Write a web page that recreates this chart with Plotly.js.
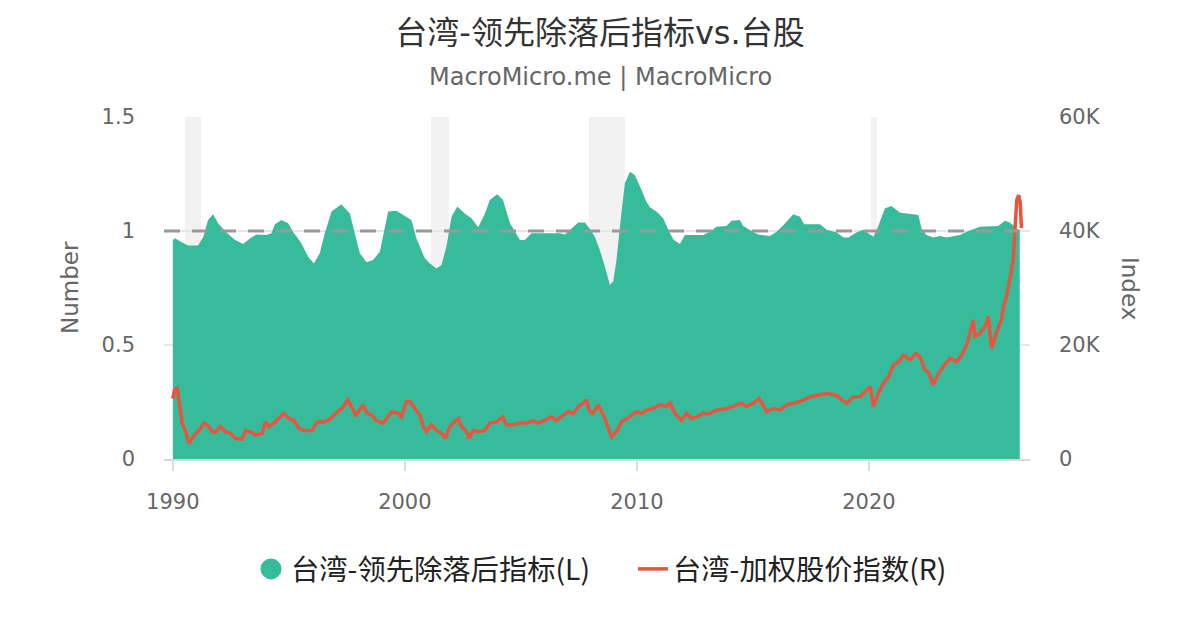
<!DOCTYPE html>
<html>
<head>
<meta charset="utf-8">
<script src="https://cdn.plot.ly/plotly-3.0.1.min.js"></script>
<style>html,body{margin:0;padding:0;background:#fff}#chart{width:1200px;height:630px}</style>
</head>
<body>
<div id="chart"></div>
<script>
// ---- data ----
const chartTitle = "台湾-领先除落后指标vs.台股";
const chartSubtitle = "MacroMicro.me | MacroMicro";
const seriesNames = ["台湾-领先除落后指标(L)", "台湾-加权股价指数(R)"];
const leftAxisTitle = "Number";
const rightAxisTitle = "Index";

// Leading / lagging ratio (decimal year)
const ratioDates = [1990.0,1990.1,1990.3,1990.66,1991.09,1991.31,1991.52,1991.74,1991.95,1992.31,1992.67,1993.03,1993.32,1993.6,1994.04,1994.25,1994.4,1994.68,1994.97,1995.18,1995.54,1995.83,1996.08,1996.33,1996.55,1996.84,1997.26,1997.63,1997.84,1998.06,1998.35,1998.63,1998.92,1999.28,1999.64,2000.07,2000.28,2000.5,2000.86,2001.08,2001.36,2001.58,2001.79,2002.01,2002.26,2002.58,2002.87,2003.16,2003.45,2003.66,2003.98,2004.23,2004.53,2004.96,2005.17,2005.46,2005.96,2006.68,2006.9,2007.18,2007.47,2007.76,2007.97,2008.19,2008.4,2008.62,2008.84,2008.98,2009.12,2009.33,2009.48,2009.7,2009.91,2010.2,2010.41,2010.56,2010.84,2011.13,2011.35,2011.57,2011.85,2012.07,2012.86,2013.15,2013.43,2013.86,2014.08,2014.44,2014.58,2014.94,2015.23,2015.73,2016.02,2016.31,2016.74,2017.03,2017.2,2017.89,2018.18,2018.61,2018.9,2019.11,2019.46,2019.75,2020.0,2020.19,2020.39,2020.69,2020.97,2021.34,2021.9,2022.13,2022.27,2022.48,2022.77,2023.06,2023.35,2023.64,2023.92,2024.21,2024.5,2024.78,2025.57,2025.86,2026.07,2026.29,2026.5];
const ratioValues = [0.96,0.968,0.955,0.936,0.936,0.975,1.048,1.073,1.034,0.993,0.962,0.943,0.967,0.985,0.982,0.99,1.03,1.048,1.034,0.997,0.946,0.887,0.858,0.902,0.99,1.085,1.117,1.077,0.99,0.902,0.863,0.873,0.909,1.085,1.089,1.063,1.048,0.967,0.88,0.858,0.836,0.851,0.931,1.063,1.107,1.077,1.056,1.016,1.077,1.136,1.161,1.136,1.034,0.96,0.96,0.99,0.99,0.99,0.985,1.01,1.037,1.037,1.01,0.975,0.917,0.843,0.763,0.78,0.873,1.077,1.209,1.26,1.246,1.18,1.128,1.104,1.085,1.056,1.005,0.963,0.943,0.982,0.982,0.997,1.019,1.022,1.045,1.048,1.022,1.0,0.985,0.978,0.997,1.025,1.073,1.063,1.03,1.03,1.005,0.993,0.971,0.971,0.993,1.005,0.99,0.975,1.019,1.1,1.11,1.08,1.073,1.07,1.01,0.982,0.971,0.978,0.971,0.975,0.982,0.997,1.01,1.019,1.022,1.045,1.037,1.02,1.0];

// TAIEX (decimal year)
const taiexDates = [1990.0,1990.07,1990.19,1990.26,1990.33,1990.4,1990.55,1990.69,1990.83,1990.98,1991.12,1991.34,1991.48,1991.7,1991.84,1992.05,1992.27,1992.49,1992.7,1992.99,1993.13,1993.35,1993.56,1993.85,1993.99,1994.14,1994.35,1994.64,1994.78,1995.0,1995.22,1995.43,1995.65,1996.0,1996.22,1996.5,1996.8,1997.08,1997.3,1997.54,1997.66,1997.88,1998.0,1998.2,1998.37,1998.6,1998.74,1999.02,1999.07,1999.43,1999.71,1999.85,2000.07,2000.21,2000.43,2000.65,2000.79,2000.93,2001.15,2001.37,2001.58,2001.75,2001.94,2002.08,2002.3,2002.44,2002.66,2002.77,2002.94,2003.23,2003.45,2003.66,2003.95,2004.21,2004.38,2004.67,2004.96,2005.25,2005.53,2005.75,2006.03,2006.32,2006.53,2006.83,2007.04,2007.26,2007.47,2007.69,2007.83,2007.97,2008.1,2008.33,2008.48,2008.62,2008.77,2008.91,2009.12,2009.34,2009.55,2009.77,2009.99,2010.2,2010.42,2010.71,2010.99,2011.28,2011.42,2011.64,2011.92,2012.14,2012.35,2012.57,2012.86,2013.14,2013.43,2013.87,2014.15,2014.51,2014.73,2015.01,2015.27,2015.44,2015.59,2015.88,2016.17,2016.45,2016.74,2017.03,2017.46,2017.89,2018.18,2018.61,2018.82,2019.04,2019.33,2019.61,2019.9,2020.06,2020.19,2020.4,2020.62,2020.84,2021.05,2021.27,2021.48,2021.77,2022.03,2022.2,2022.41,2022.56,2022.77,2022.99,2023.2,2023.49,2023.78,2023.99,2024.21,2024.35,2024.5,2024.57,2024.78,2025.07,2025.14,2025.29,2025.5,2025.72,2025.79,2025.93,2026.08,2026.22,2026.29,2026.37,2026.45,2026.52,2026.57];
const taiexValues = [10600,12100,12400,10400,8600,6300,4800,2750,3600,4500,5000,6300,6000,4800,4700,5700,4800,4500,3600,3500,5000,4800,4200,4500,6500,5700,6300,7400,8000,7100,6800,5400,5000,5000,6500,6500,7100,8300,8900,10400,9500,7700,8300,9500,8000,7700,6800,6300,6300,8300,8000,7400,10100,10100,8900,7700,5700,4800,6000,5000,4500,3600,5700,6300,7100,5700,4800,3600,5000,4800,5000,6300,6500,7400,6000,6000,6300,6300,6700,6300,6900,7400,6800,7700,8300,8000,9200,9800,10400,8300,8000,9500,8300,7100,5300,3900,4800,6600,7000,7700,8300,8000,8600,8900,9500,9200,9800,8000,6800,8000,7100,7400,8000,8000,8600,8800,9200,9800,9200,9800,10600,9500,8300,8900,8600,9500,9800,10100,10900,11200,11500,11200,10400,9800,10900,10900,12100,12700,9200,11500,13300,14400,16500,17000,18200,17400,18500,17900,15600,15300,13000,15000,16200,17700,17100,18200,20000,22000,24400,21500,22000,23800,25000,19400,22300,24600,26700,28500,32000,34900,40200,45400,46300,45000,40500];

// Recession periods (decimal year)
const recessionStart = [1990.52, 2001.12, 2007.93, 2020.09];
const recessionEnd   = [1991.21, 2001.9, 2009.48, 2020.34];

const referenceLevel = 1;
const xRange = [1989.62, 2026.94];
const leftTicks = [0, 0.5, 1, 1.5];
const rightTicks = [0, 20000, 40000, 60000];
const rightTickText = ["0", "20K", "40K", "60K"];
const xTicks = [1990, 2000, 2010, 2020];

// ---- styles ----
const GREEN = "#37bc9b";
const RED = "#e8553e";
const FONT = "DejaVu Sans, Noto Sans CJK SC, sans-serif";
const LEGEND_FONT = {family: "Noto Sans CJK SC, sans-serif", size: 28.3, color: "#222"};

const traces = [
  {
    type: "scatter", mode: "markers", x: [null], y: [null],
    name: seriesNames[0], showlegend: true, legend: "legend", hoverinfo: "skip",
    marker: {color: GREEN, size: 16, line: {color: GREEN, width: 5}}
  },
  {
    type: "scatter", mode: "lines", x: ratioDates, y: ratioValues,
    name: seriesNames[0], showlegend: false,
    fill: "tozeroy", fillcolor: GREEN, line: {width: 0, color: GREEN}
  },
  {
    type: "scatter", mode: "lines", x: taiexDates, y: taiexValues,
    name: seriesNames[1], yaxis: "y2", legend: "legend2",
    line: {color: RED, width: 3.5}
  }
];

const shapes = recessionStart.map((s, i) => ({
  type: "rect", xref: "x", yref: "paper", x0: s, x1: recessionEnd[i], y0: 0, y1: 1,
  fillcolor: "#f2f2f2", line: {width: 0}, layer: "below"
}));
shapes.push({
  type: "line", xref: "x", yref: "y", x0: xRange[0], x1: ratioDates[ratioDates.length - 1],
  y0: referenceLevel, y1: referenceLevel,
  line: {color: "#999999", width: 3, dash: "16px,12px"}, layer: "above"
});

const layout = {
  width: 1200, height: 630,
  margin: {l: 164, r: 170, t: 117, b: 171, pad: 0},
  paper_bgcolor: "#fff", plot_bgcolor: "rgba(0,0,0,0)",
  font: {family: FONT, color: "#666"},
  title: {
    text: chartTitle, x: 0.5, xanchor: "center", y: 1 - 33 / 630, yanchor: "middle",
    yref: "container", font: {family: FONT, size: 32, color: "#333"}
  },
  showlegend: true,
  legend: {
    x: (251 - 164) / 866, xanchor: "left", y: -0.3216, yanchor: "middle",
    font: LEGEND_FONT, itemclick: false, bgcolor: "rgba(0,0,0,0)", borderwidth: 0
  },
  legend2: {
    x: (633 - 164) / 866, xanchor: "left", y: -0.3216, yanchor: "middle",
    font: LEGEND_FONT, itemclick: false, bgcolor: "rgba(0,0,0,0)", borderwidth: 0
  },
  xaxis: {
    type: "linear", range: xRange, tickvals: xTicks, tickformat: "d",
    showgrid: false, zeroline: false,
    showline: true, linecolor: "#d8d8d8", linewidth: 2,
    ticks: "outside", ticklen: 10, tickwidth: 2, tickcolor: "#dddddd",
    ticklabelstandoff: 13,
    tickfont: {family: FONT, size: 21, color: "#666"}
  },
  yaxis: {
    range: [0, 1.5], tickvals: leftTicks, showgrid: true, gridcolor: "#e6e6e6", gridwidth: 1.5,
    zeroline: false, showline: false, ticks: "", ticklabelstandoff: 28,
    tickfont: {family: FONT, size: 21, color: "#666"}
  },
  yaxis2: {
    range: [0, 60000], overlaying: "y", side: "right",
    tickvals: rightTicks, ticktext: rightTickText,
    showgrid: false, zeroline: false, showline: false, ticks: "", ticklabelstandoff: 28,
    tickfont: {family: FONT, size: 21, color: "#666"}
  },
  shapes: shapes,
  annotations: [
    {text: chartSubtitle, xref: "paper", yref: "paper", x: (600 - 164) / 866, y: (459 - 77) / 342,
     xanchor: "center", yanchor: "middle", showarrow: false,
     font: {family: FONT, size: 24, color: "#666"}},
    {text: leftAxisTitle, xref: "paper", yref: "paper", x: (70 - 164) / 866, y: 0.5,
     xanchor: "center", yanchor: "middle", textangle: -90, showarrow: false,
     font: {family: FONT, size: 23, color: "#666"}},
    {text: rightAxisTitle, xref: "paper", yref: "paper", x: (1130 - 164) / 866, y: 0.5,
     xanchor: "center", yanchor: "middle", textangle: 90, showarrow: false,
     font: {family: FONT, size: 23, color: "#666"}}
  ]
};

Plotly.newPlot("chart", traces, layout, {staticPlot: true, displayModeBar: false});
</script>
</body>
</html>
